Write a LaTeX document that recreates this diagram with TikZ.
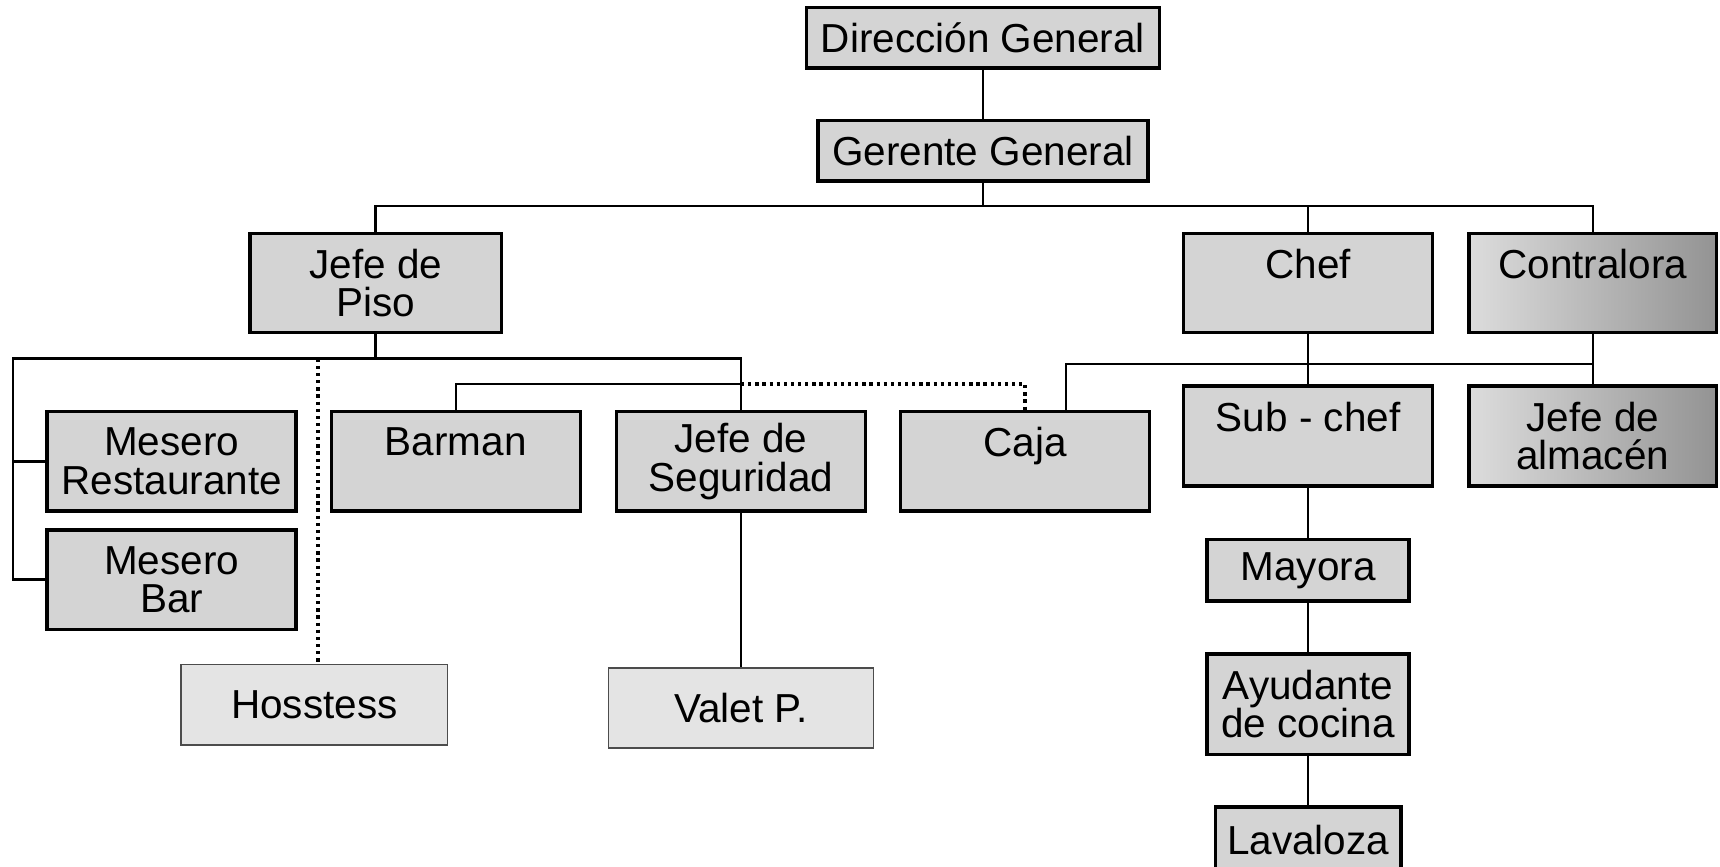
\documentclass[tikz,border=0pt]{standalone}
\usepackage{fontspec}
\setmainfont{Liberation Sans}
\usepackage{tikz}
\definecolor{grisCaja}{HTML}{D4D4D4}
\definecolor{grisClaro}{HTML}{E4E4E4}
\definecolor{grisOscuro}{HTML}{939393}
\tikzset{
  puesto/.style={draw, line width=1.8pt, fill=grisCaja, inner sep=0pt, align=center,
    font=\fontsize{21}{20}\selectfont},
  leve/.style={puesto, line width=0.7pt, draw=black!70, fill=grisClaro},
  sombra/.style={puesto, left color=grisCaja!80, right color=grisOscuro},
  tam/.style 2 args={minimum width=#1*0.2mm, minimum height=#2*0.2mm},
  linea/.style={line width=1.3pt},
  punteado/.style={line width=1.7pt, dotted},
}

\begin{document}
\begin{tikzpicture}[x=0.2mm, y=-0.2mm]
  \clip (0,0) rectangle (1568,790);
  % direccion
  \node[puesto, tam={322}{55}] (dir) at (896,34.5) {Dirección General};
  \node[puesto, tam={301}{55}] (ger) at (896,137.5) {Gerente General};
  \node[puesto, tam={229}{90}] (piso) at (342.5,258) {Jefe de\\Piso};
  \node[puesto, tam={227}{90}] (chef) at (1192.5,258) {Chef\\[-2mm]\strut};
  \node[sombra, tam={226}{90}] (contra) at (1452,258) {Contralora\\[-2mm]\strut};
  % piso
  \node[puesto, tam={227}{91}] (mrest) at (156.5,420.5) {Mesero\\Restaurante};
  \node[puesto, tam={227}{91}] (mbar) at (156.5,528.5) {Mesero\\Bar};
  \node[puesto, tam={227}{91}] (barman) at (415.5,420.5) {Barman\\[-2mm]\strut};
  \node[puesto, tam={227}{91}] (seg) at (675.5,420.5) {Jefe de\\Seguridad};
  \node[puesto, tam={227}{91}] (caja) at (934.5,420.5) {Caja\\[-2mm]\strut};
  \node[leve, tam={243}{73}] (hoss) at (286.5,642.5) {Hosstess};
  \node[leve, tam={242}{73}] (valet) at (675.5,645.5) {Valet P.};
  % cocina
  \node[puesto, tam={227}{91}] (subchef) at (1192.5,397.5) {Sub - chef\\[-2mm]\strut};
  \node[sombra, tam={226}{91}] (almacen) at (1452,397.5) {Jefe de\\almacén};
  \node[puesto, tam={184}{56}] (mayora) at (1192.5,520) {Mayora};
  \node[puesto, tam={184}{92}] (ayud) at (1192.5,642) {Ayudante\\de cocina};
  \node[puesto, tam={169}{60}] (lava) at (1192.5,765.5) {Lavaloza};

  \coordinate (b1) at (896,188);
  \coordinate (b2) at (342.5,327);
  \coordinate (b2izq) at (12,327);
  \coordinate (b3) at (675.5,350);
  \coordinate (b4) at (1192.5,332);

  \draw[linea] (dir) -- (ger);
  \draw[linea] (ger) -- (b1);
  \draw[linea] (piso.north) |- (b1) -| (contra.north);
  \draw[linea] (chef.north) -- (chef.north |- b1);
  \draw[linea] (piso) -- (b2);
  \draw[linea] (mrest.west) -| (b2izq) -- (b2izq -| seg.north) -- (seg.north);
  \draw[linea] (mbar.west) -| (b2izq);
  \draw[punteado] ([xshift=0.7mm]hoss.north |- b2) -- ([xshift=0.7mm]hoss.north);
  \draw[linea] (barman.north) |- (b3);
  \draw[punteado] (b3) -| (caja.north);
  \draw[linea] (seg) -- (valet);
  \draw[linea] ([xshift=7.5mm]caja.north) |- (b4 -| contra.south);
  \draw[linea] (contra) -- (almacen);
  \draw[linea] (chef) -- (subchef) -- (mayora) -- (ayud) -- (lava);
\end{tikzpicture}
\end{document}
